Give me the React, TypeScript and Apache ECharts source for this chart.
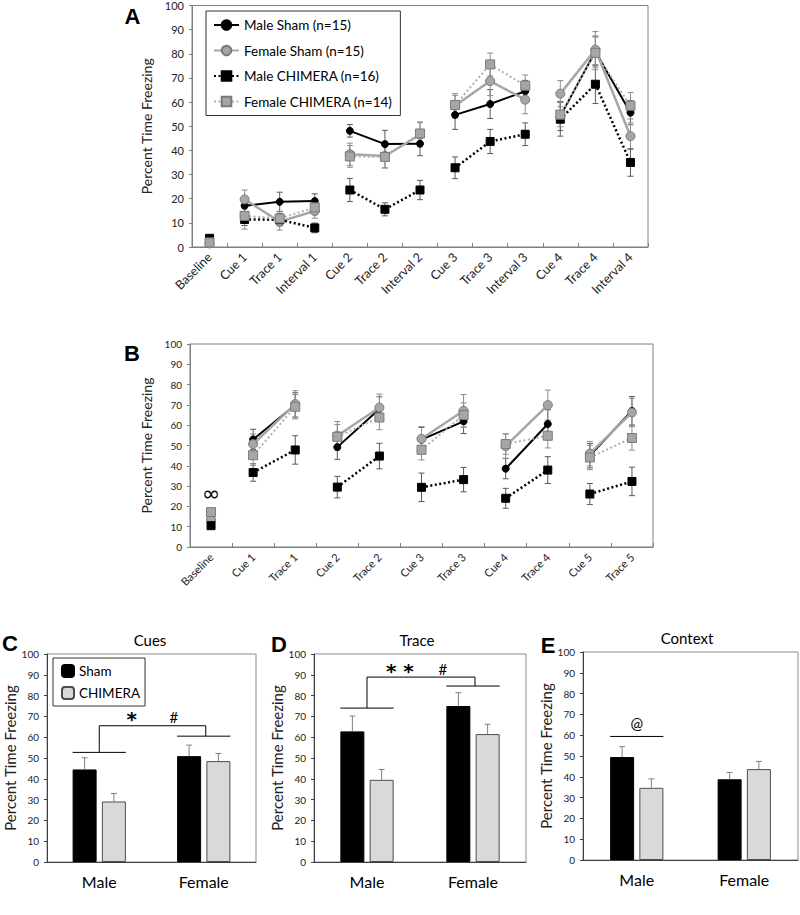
import React, { useEffect, useRef } from "react";
import * as echarts from "echarts";

const FONT = 'Lato, "Open Sans", sans-serif';

// ---------- Panel A ----------
const catsA = ["Baseline", "Cue 1", "Trace 1", "Interval 1", "Cue 2", "Trace 2", "Interval 2", "Cue 3", "Trace 3", "Interval 3", "Cue 4", "Trace 4", "Interval 4"];
const segA = [[0, 0], [1, 3], [4, 6], [7, 9], [10, 12]];
const maleShamA = [2.0, 17.1, 18.7, 19.0, 48.1, 42.6, 42.8, 54.7, 59.2, 64.5, 54.2, 81.0, 55.6];
const femaleShamA = [1.5, 19.7, 10.5, 14.9, 38.4, 37.7, 46.5, 58.5, 68.7, 61.0, 63.5, 81.7, 45.9];
const maleChimA = [3.6, 11.4, 11.3, 7.9, 23.6, 15.6, 23.6, 32.8, 43.7, 46.7, 52.9, 67.4, 35.0];
const femaleChimA = [1.9, 12.9, 11.8, 16.4, 37.5, 37.3, 47.0, 58.8, 75.6, 66.8, 54.8, 80.4, 58.5];
const maleShamErrA = [0.8, 3.0, 4.0, 3.0, 2.6, 5.7, 5.0, 6.0, 6.0, 4.5, 6.0, 6.0, 5.0];
const femaleShamErrA = [0.5, 3.9, 3.5, 3.0, 4.6, 5.0, 5.0, 5.0, 6.0, 5.8, 5.4, 7.5, 5.5];
const maleChimErrA = [0.7, 2.5, 2.5, 2.0, 4.8, 2.7, 4.0, 4.5, 5.0, 4.7, 7.0, 8.0, 5.7];
const femaleChimErrA = [0.6, 5.5, 3.0, 3.0, 4.5, 4.5, 4.8, 4.0, 4.7, 4.4, 5.0, 7.0, 5.5];

// ---------- Panel B ----------
const catsB = ["Baseline", "Cue 1", "Trace 1", "Cue 2", "Trace 2", "Cue 3", "Trace 3", "Cue 4", "Trace 4", "Cue 5", "Trace 5"];
const segB = [[0, 0], [1, 2], [3, 4], [5, 6], [7, 8], [9, 10]];
const maleShamB = [15.0, 53.0, 70.0, 49.2, 68.0, 52.9, 61.9, 38.6, 60.6, 45.0, 67.1];
const femaleShamB = [13.3, 50.7, 70.4, 54.8, 68.7, 53.3, 67.1, 49.7, 69.9, 46.0, 66.3];
const maleChimB = [10.5, 36.7, 47.8, 29.5, 44.8, 29.4, 33.2, 24.0, 37.9, 26.1, 32.3];
const femaleChimB = [17.2, 45.2, 69.1, 54.3, 63.8, 47.9, 65.0, 50.7, 54.8, 44.1, 53.7];
const maleShamErrB = [1.0, 5.0, 6.0, 6.0, 6.0, 6.0, 6.0, 5.0, 7.0, 6.0, 7.0];
const femaleShamErrB = [1.0, 5.0, 6.6, 7.0, 6.6, 6.0, 8.0, 6.0, 7.4, 6.0, 7.0];
const maleChimErrB = [1.0, 4.3, 7.0, 5.3, 6.3, 7.0, 6.0, 4.9, 6.6, 5.2, 7.0];
const femaleChimErrB = [1.0, 5.0, 6.0, 6.0, 6.0, 5.0, 6.0, 5.0, 6.0, 6.0, 6.0];
const baselineMarkB = 26.6;

// ---------- Panels C, D, E ----------
const sexCats = ["Male", "Female"];
const cuesSham = [44.5, 50.9];
const cuesChim = [29.1, 48.5];
const cuesShamErr = [5.6, 5.3];
const cuesChimErr = [3.8, 3.7];
const traceSham = [62.8, 75.0];
const traceChim = [39.5, 61.5];
const traceShamErr = [7.4, 6.4];
const traceChimErr = [5.0, 4.7];
const contextSham = [49.5, 38.8];
const contextChim = [34.7, 43.7];
const contextShamErr = [5.0, 3.3];
const contextChimErr = [4.3, 3.7];
// bracket levels: [male line, female line, connector top, symbol level]
const cuesBracket = [52.7, 60.5, 65.5, 69.5];
const traceBracket = [74.0, 84.6, 88.9, 92.7];
const contextBracket = [59.4, 66.0];

const groupNames = ["Male Sham (n=15)", "Female Sham (n=15)", "Male CHIMERA (n=16)", "Female CHIMERA (n=14)"];

const groupStyles = [
  { symbol: "circle", size: 7, fill: "#000", border: "#000", bw: 1, line: "#000", width: 2, type: "solid", err: "#5a5a5a" },
  { symbol: "circle", size: 9, fill: "#a6a6a6", border: "#7a7a7a", bw: 1, line: "#a6a6a6", width: 2.5, type: "solid", err: "#8c8c8c" },
  { symbol: "rect", size: 8, fill: "#000", border: "#000", bw: 1, line: "#000", width: 2.5, type: [2, 2.5], err: "#5a5a5a" },
  { symbol: "rect", size: 9, fill: "#a6a6a6", border: "#7a7a7a", bw: 1, line: "#b0b0b0", width: 2, type: [2, 2.5], err: "#8c8c8c" },
];

function lineSeries(gi: number, k: number, vals: number[], segs: number[][]) {
  const st: any = groupStyles[k];
  return segs.map(([a, b]) => ({
    type: "line",
    name: groupNames[k],
    xAxisIndex: gi,
    yAxisIndex: gi,
    data: vals.map((v, i) => (i >= a && i <= b ? v : null)),
    connectNulls: false,
    showAllSymbol: true,
    symbol: st.symbol,
    symbolSize: st.size,
    itemStyle: { color: st.fill, borderColor: st.border, borderWidth: st.bw },
    lineStyle: { color: st.line, width: st.width, type: st.type },
    z: 3 + k,
    emphasis: { disabled: true },
    silent: true,
  }));
}

function errSeries(gi: number, vals: number[], errs: number[], color: string, offset: number, both: boolean, z: number) {
  return {
    type: "custom",
    xAxisIndex: gi,
    yAxisIndex: gi,
    silent: true,
    z,
    data: vals.map((v, i) => [i, both ? v - errs[i] : v, v + errs[i]]),
    encode: { x: 0, y: [1, 2] },
    renderItem: (_p: any, api: any) => {
      const i = api.value(0);
      const top = api.coord([i, api.value(2)]);
      const bot = api.coord([i, api.value(1)]);
      const x = top[0] + offset;
      const h = 3;
      const st = { stroke: color, lineWidth: 1 };
      const children: any[] = [
        { type: "line", shape: { x1: x, y1: top[1], x2: x, y2: bot[1] }, style: st },
        { type: "line", shape: { x1: x - h, y1: top[1], x2: x + h, y2: top[1] }, style: st },
      ];
      if (both) children.push({ type: "line", shape: { x1: x - h, y1: bot[1], x2: x + h, y2: bot[1] }, style: st });
      return { type: "group", children };
    },
  };
}

const grids = [
  { left: 192, top: 5, width: 456, height: 242 },
  { left: 190, top: 344, width: 463, height: 203 },
  { left: 47, top: 654, width: 209, height: 208 },
  { left: 314, top: 654, width: 212, height: 208 },
  { left: 583, top: 652, width: 215, height: 208 },
];

function yAxis(gi: number, labelSize: number, nameSize: number, nameGap: number, lineColor: string) {
  return {
    gridIndex: gi,
    type: "value",
    min: 0,
    max: 100,
    interval: 10,
    splitLine: { show: false },
    axisLine: { show: true, lineStyle: { color: lineColor } },
    axisTick: { show: true, length: 3, lineStyle: { color: lineColor } },
    axisLabel: { fontSize: labelSize, color: "#222", margin: 8, fontFamily: FONT },
    name: "Percent Time Freezing",
    nameLocation: "middle",
    nameGap,
    nameTextStyle: { fontSize: nameSize, color: "#222", fontFamily: FONT },
  };
}

const BAR_W = 24;
const BAR_GAP = 0.22;
const BAR_OFF = (BAR_W * (1 + BAR_GAP)) / 2;

function barSet(gi: number, sham: number[], chim: number[], shamErr: number[], chimErr: number[]) {
  return [
    {
      type: "bar", name: "Sham", xAxisIndex: gi, yAxisIndex: gi, data: sham, barWidth: BAR_W, barGap: `${BAR_GAP * 100}%`,
      itemStyle: { color: "#000", borderColor: "#000", borderWidth: 1 }, silent: true, z: 2,
    },
    {
      type: "bar", name: "CHIMERA", xAxisIndex: gi, yAxisIndex: gi, data: chim, barWidth: BAR_W, barGap: `${BAR_GAP * 100}%`,
      itemStyle: { color: "#d9d9d9", borderColor: "#4d4d4d", borderWidth: 1 }, silent: true, z: 2,
    },
    errSeries(gi, sham, shamErr, "#808080", -BAR_OFF, false, 5),
    errSeries(gi, chim, chimErr, "#808080", BAR_OFF, false, 5),
  ];
}

export default function App() {
  const ref = useRef<HTMLDivElement>(null);
  useEffect(() => {
    const chart = echarts.init(ref.current!, null, { renderer: "svg" });
    const valsA = [maleShamA, femaleShamA, maleChimA, femaleChimA];
    const errsA = [maleShamErrA, femaleShamErrA, maleChimErrA, femaleChimErrA];
    const valsB = [maleShamB, femaleShamB, maleChimB, femaleChimB];
    const errsB = [maleShamErrB, femaleShamErrB, maleChimErrB, femaleChimErrB];

    const series: any[] = [];
    for (let k = 0; k < 4; k++) series.push(errSeries(0, valsA[k], errsA[k], groupStyles[k].err, 0, true, 1));
    for (let k = 0; k < 4; k++) series.push(errSeries(1, valsB[k], errsB[k], groupStyles[k].err, 0, true, 1));
    for (let k = 0; k < 4; k++) series.push(...lineSeries(0, k, valsA[k], segA));
    for (let k = 0; k < 4; k++) series.push(...lineSeries(1, k, valsB[k], segB));
    series.push(...barSet(2, cuesSham, cuesChim, cuesShamErr, cuesChimErr));
    series.push(...barSet(3, traceSham, traceChim, traceShamErr, traceChimErr));
    series.push(...barSet(4, contextSham, contextChim, contextShamErr, contextChimErr));

    const catX = (gi: number, cats: string[], rot: number, size: number) => ({
      gridIndex: gi,
      type: "category",
      data: cats,
      boundaryGap: true,
      axisLine: { lineStyle: { color: "#808080" } },
      axisTick: { show: true, inside: true, length: 4, lineStyle: { color: "#808080" } },
      axisLabel: { rotate: rot, fontSize: size, color: "#222", margin: 8, interval: 0, fontFamily: FONT },
    });
    const sexX = (gi: number) => ({
      gridIndex: gi,
      type: "category",
      data: sexCats,
      axisLine: { lineStyle: { color: "#404040" } },
      axisTick: { show: false },
      axisLabel: { fontSize: 16, color: "#000", margin: 11, fontFamily: FONT },
    });

    chart.setOption({
      animation: false,
      backgroundColor: "#fff",
      grid: grids.map((g, i) => ({ ...g, show: true, borderColor: i < 2 ? "#808080" : "#8c8c8c", borderWidth: 1, backgroundColor: "transparent" })),
      xAxis: [catX(0, catsA, 45, 12.5), catX(1, catsB, 45, 11), sexX(2), sexX(3), sexX(4)],
      yAxis: [
        yAxis(0, 11, 14, 28, "#808080"),
        yAxis(1, 10, 14, 26, "#808080"),
        yAxis(2, 10, 15, 24, "#404040"),
        yAxis(3, 10, 15, 23, "#404040"),
        yAxis(4, 10, 15, 24, "#404040"),
      ],
      legend: [
        {
          data: groupNames, left: 206, top: 11, orient: "vertical", itemGap: 11.5, itemWidth: 25, itemHeight: 12,
          padding: [7, 8, 7, 7], borderColor: "#333", borderWidth: 1, selectedMode: false,
          textStyle: { fontSize: 13.5, color: "#000", fontFamily: FONT },
        },
        {
          data: ["Sham", "CHIMERA"], left: 53, top: 658, orient: "vertical", itemGap: 8, itemWidth: 12, itemHeight: 12,
          padding: [6, 5, 6, 8], borderColor: "#333", borderWidth: 1, selectedMode: false,
          textStyle: { fontSize: 13.5, color: "#000", fontFamily: FONT },
        },
      ],
      series,
    });

    const P = (gi: number, x: number, y: number) => chart.convertToPixel({ gridIndex: gi } as any, [x, y]) as number[];
    const ln = (x1: number, y1: number, x2: number, y2: number) => ({
      type: "line", shape: { x1, y1, x2, y2 }, style: { stroke: "#000", lineWidth: 1 }, silent: true,
    });
    const txt = (x: number, y: number, text: string, size: number, weight = "normal", family = FONT) => ({
      type: "text", x, y, silent: true,
      style: { text, fontSize: size, fontWeight: weight, fontFamily: family, fill: "#000", align: "center", verticalAlign: "middle" },
    });

    const bracket = (gi: number, b: number[], starText: string) => {
      const m1 = P(gi, 0, b[0]);
      const f1 = P(gi, 1, b[1]);
      const top = P(gi, 0, b[2]);
      const t = P(gi, 0, b[3]);
      const half = BAR_OFF + BAR_W / 2;
      const dx = f1[0] - m1[0];
      return [
        ln(m1[0] - half, m1[1], m1[0] + half, m1[1]),
        ln(f1[0] - half, f1[1], f1[0] + half, f1[1]),
        ln(m1[0], m1[1], m1[0], top[1]),
        ln(m1[0], top[1], f1[0] + 2, top[1]),
        ln(f1[0] + 2, top[1], f1[0] + 2, f1[1]),
        txt(m1[0] + dx * 0.31, t[1] + 2, starText, 20, "bold", '"DejaVu Sans", sans-serif'),
        txt(m1[0] + dx * 0.715, t[1], "#", 15),
      ];
    };

    const eLine = P(4, 0, contextBracket[0]);
    const eText = P(4, 0, contextBracket[1]);
    const halfE = BAR_OFF + BAR_W / 2;
    const inf = P(1, 0, baselineMarkB);

    chart.setOption({
      graphic: [
        txt(132.5, 16, "A", 22, "bold", '"Liberation Sans", Arial, sans-serif'),
        txt(132, 353, "B", 22, "bold", '"Liberation Sans", Arial, sans-serif'),
        txt(10, 643, "C", 22, "bold", '"Liberation Sans", Arial, sans-serif'),
        txt(279, 644, "D", 22, "bold", '"Liberation Sans", Arial, sans-serif'),
        txt(548, 645, "E", 22, "bold", '"Liberation Sans", Arial, sans-serif'),
        txt(150, 640, "Cues", 15),
        txt(417, 640, "Trace", 15),
        txt(687, 638, "Context", 15),
        txt(inf[0], inf[1], "∞", 22, "normal", '"DejaVu Sans", sans-serif'),
        ...bracket(2, cuesBracket, "*"),
        ...bracket(3, traceBracket, "* *"),
        ln(eLine[0] - halfE, eLine[1], eLine[0] + halfE, eLine[1]),
        txt(eText[0], eText[1], "@", 15),
      ],
    });

    return () => chart.dispose();
  }, []);

  return <div ref={ref} style={{ position: "absolute", left: 0, top: 0, width: 800, height: 915 }} />;
}
